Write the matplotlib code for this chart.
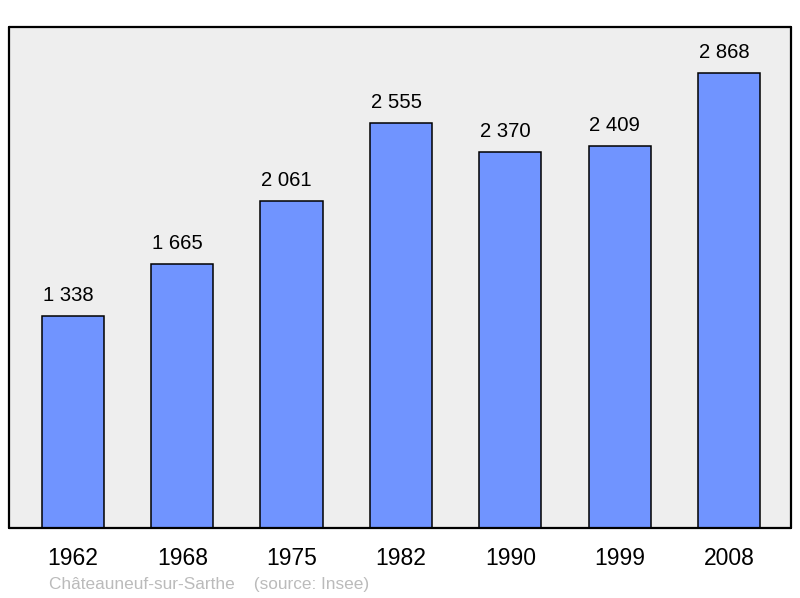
import matplotlib
matplotlib.use("Agg")
import matplotlib.pyplot as plt

plt.rcParams['font.family'] = ['Liberation Sans', 'DejaVu Sans']

# données
annees = ["1962", "1968", "1975", "1982", "1990", "1999", "2008"]
population = [1338, 1665, 2061, 2555, 2370, 2409, 2868]
commune = "Châteauneuf-sur-Sarthe"
source = "(source: Insee)"

fig = plt.figure(figsize=(8, 5.98), dpi=100)
ax = fig.add_axes([9/800, 70/598, 782/800, 501/598])
ax.set_facecolor('#eeeeee')

x = range(len(annees))
ax.bar(x, population, width=0.57, color='#7094ff', edgecolor='black', linewidth=1.1, zorder=2)

for xi, v in zip(x, population):
    label = f"{v:,}".replace(",", " ")
    ax.annotate(label, (xi, v), xytext=(-3.5, 11), textcoords='offset points',
                ha='center', va='baseline', fontsize=14.6)

ax.set_xlim(-0.585, 6.567)
ax.set_ylim(0, 3161)
ax.set_xticks(list(x))
ax.set_xticklabels(annees, fontsize=16.5)
ax.tick_params(axis='x', length=0, pad=14)
ax.set_yticks([])

for s in ax.spines.values():
    s.set_linewidth(1.6)
    s.set_capstyle('round')

fig.text(49/800, 1 - 584/598, commune + "    " + source, color='#bbbbbb',
         fontsize=12.4, va='center', ha='left')

fig.savefig("out.png", dpi=100)
